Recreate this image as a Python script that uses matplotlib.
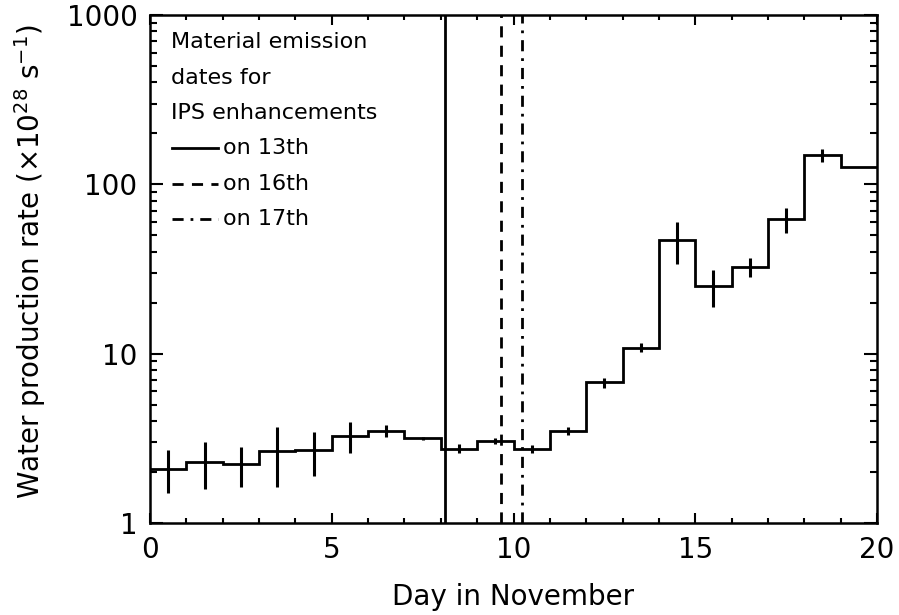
import numpy as np
import matplotlib
matplotlib.use('Agg')
import matplotlib.pyplot as plt
from matplotlib.ticker import FixedLocator, NullFormatter

# Datos (bins de 1 dia)
bordes_dias = np.arange(0, 21)
tasa_agua = [2.09, 2.30, 2.22, 2.67, 2.70, 3.28, 3.51, 3.18, 2.75, 3.06,
             2.75, 3.51, 6.78, 10.8, 47.0, 25.1, 32.7, 62.2, 149, 126]
error_sup = [2.70, 3.02, 2.80, 3.70, 3.46, 3.94, 3.79, 3.22, 2.93, 3.18,
             2.89, 3.70, 7.16, 11.6, 60.2, 31.3, 36.9, 72.8, 161]
error_inf = [1.50, 1.58, 1.64, 1.64, 1.90, 2.60, 3.21, 3.10, 2.60, 2.93,
             2.60, 3.31, 6.25, 10.2, 33.8, 18.8, 28.3, 51.9, 135]

# Fechas de emision de material
fechas_emision = [8.12, 9.66, 10.23]
estilos_emision = ['-', (0, (4, 3)), (0, (4, 2.5, 1, 2.5))]
etiquetas_emision = ['on 13th', 'on 16th', 'on 17th']

plt.rcParams['font.family'] = 'DejaVu Sans'

fig = plt.figure(figsize=(8.99, 6.15), dpi=100)
ax = fig.add_axes([150 / 899, 1 - 523 / 615, (877 - 150) / 899, (523 - 15) / 615])

centros = (bordes_dias[:-1] + bordes_dias[1:]) / 2
ax.stairs(tasa_agua, bordes_dias, color='black', lw=2.0, baseline=None)

n = len(error_sup)
tasa = np.array(tasa_agua[:n])
yerr = [tasa - np.array(error_inf), np.array(error_sup) - tasa]
ax.errorbar(centros[:n], tasa, yerr=yerr, fmt='none', ecolor='black',
            elinewidth=2.2, capsize=0)

for fecha, estilo in zip(fechas_emision, estilos_emision):
    ax.axvline(fecha, color='black', lw=2.0, linestyle=estilo)

ax.set_yscale('log')
ax.set_xlim(0, 20)
ax.set_ylim(1, 1000)

ax.xaxis.set_major_locator(FixedLocator([0, 5, 10, 15, 20]))
ax.xaxis.set_minor_locator(FixedLocator(np.arange(0, 21)))
ax.yaxis.set_major_locator(FixedLocator([1, 10, 100, 1000]))
minors = [m * 10 ** e for e in range(3) for m in range(2, 10)]
ax.yaxis.set_minor_locator(FixedLocator(minors))
ax.yaxis.set_minor_formatter(NullFormatter())
ax.set_yticklabels(['1', '10', '100', '1000'])

ax.tick_params(axis='both', which='both', direction='in', top=True,
               right=True, width=1.5, labelsize=20, color='black')
ax.tick_params(axis='x', which='major', length=7.5, pad=9)
ax.tick_params(axis='x', which='minor', length=3.8)
ax.tick_params(axis='y', which='major', length=9.5, pad=9)
ax.tick_params(axis='y', which='minor', length=5)
for s in ax.spines.values():
    s.set_linewidth(1.8)

fig.text(513 / 899, 1 - 597 / 615, 'Day in November', fontsize=20,
         ha='center', va='center')
fig.text(30 / 899, 1 - 262 / 615,
         r'Water production rate ($\times$10$^{28}$ s$^{-1}$)',
         fontsize=20, rotation=90, ha='center', va='center')

# Leyenda manual
tr = ax.transAxes
def ax_x(px):
    return (px - 150) / (877 - 150)
def ax_y(py):
    return (523 - py) / (523 - 15)

titulo = ['Material emission', 'dates for', 'IPS enhancements']
for i, t in enumerate(titulo):
    ax.text(ax_x(171), ax_y(42 + 35.5 * i), t, transform=tr, fontsize=16,
            va='center', ha='left')
for i, (estilo, etq) in enumerate(zip(estilos_emision, etiquetas_emision)):
    yy = ax_y(148 + 35.5 * i)
    ax.plot([ax_x(172), ax_x(218)], [yy, yy], transform=tr, color='black',
            lw=2.0, linestyle=estilo)
    ax.text(ax_x(223), yy, etq, transform=tr, fontsize=16, va='center',
            ha='left')

fig.savefig('out.png', dpi=100)
